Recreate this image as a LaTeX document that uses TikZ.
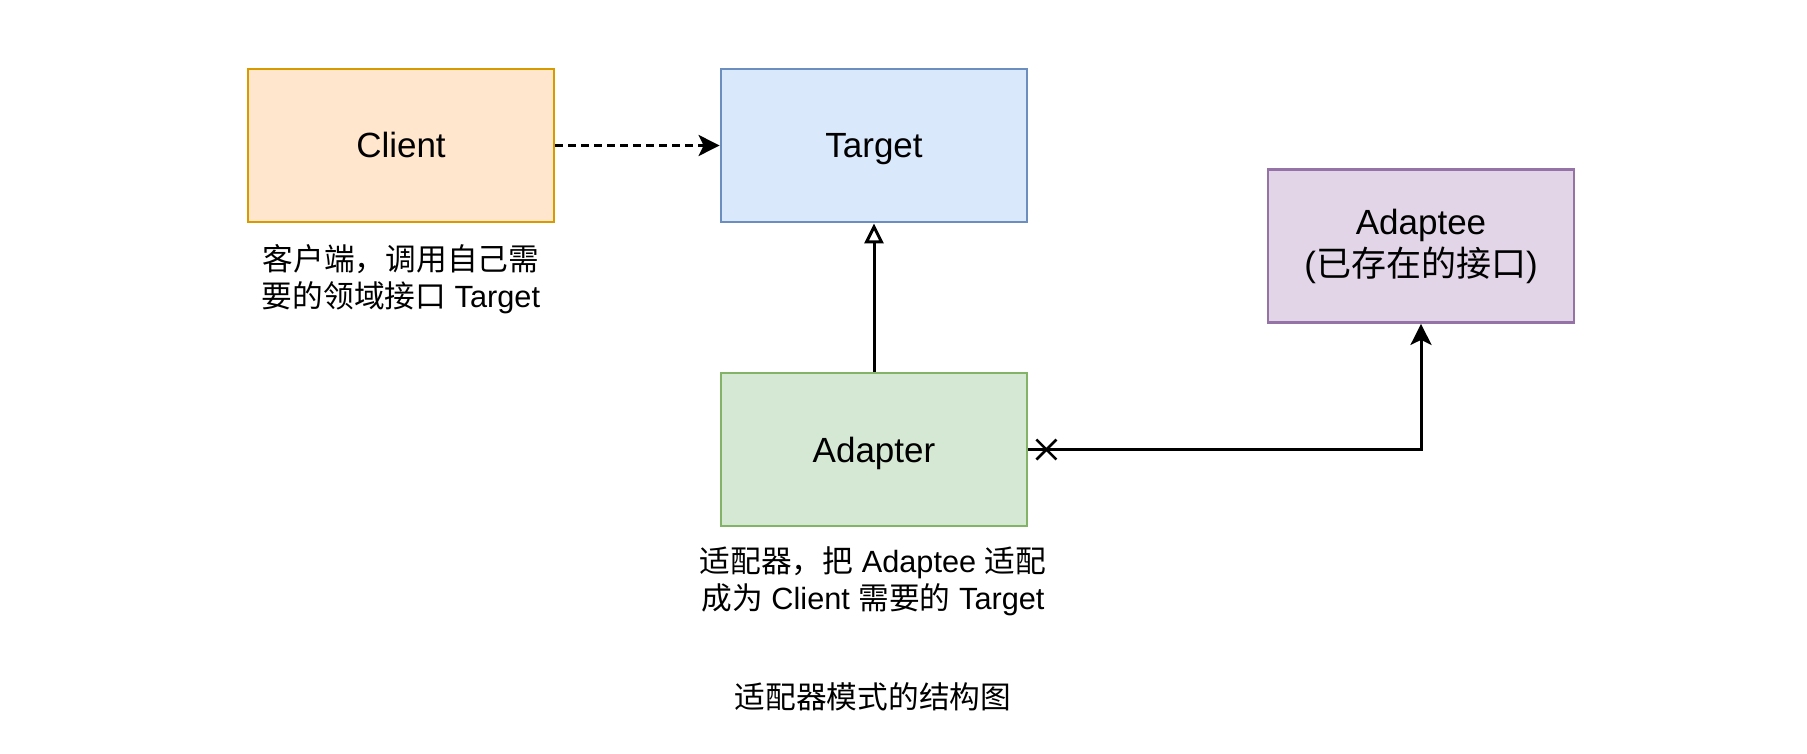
\documentclass[tikz,border=0pt]{standalone}
\usepackage{fontspec}
\setmainfont{Liberation Sans}
\newfontfamily\cjk{Noto Sans CJK SC}
\usetikzlibrary{arrows.meta}
\definecolor{clientfill}{HTML}{FFE6CC}
\definecolor{clientline}{HTML}{D79B00}
\definecolor{targetfill}{HTML}{DAE8FC}
\definecolor{targetline}{HTML}{6C8EBF}
\definecolor{adapterfill}{HTML}{D5E8D4}
\definecolor{adapterline}{HTML}{82B366}
\definecolor{adapteefill}{HTML}{E1D5E7}
\definecolor{adapteeline}{HTML}{9673A6}
\begin{document}
\begin{tikzpicture}[x=1pt,y=-1pt,
  box/.style={draw, line width=2.8pt, minimum width=306pt, minimum height=153pt,
    align=center, inner sep=0pt, font=\fontsize{35}{42}\selectfont},
  onebox/.style={box, text height=25pt, text depth=0pt},
  note/.style={align=center, inner sep=0pt, font=\fontsize{30.7}{36.8}\selectfont},
  conn/.style={line width=3pt, black},
  solidtip/.style={-{Stealth[length=21pt,width=21pt,inset=5pt]}},
  opentip/.style={-{Triangle[length=20pt,width=19pt,fill=white]}}]
\useasboundingbox (0,0) rectangle (1807,754);
\fill[white] (0,0) rectangle (1807,754);
\node[onebox, fill=clientfill, draw=clientline] (client) at (401,145.5) {Client};
\node[onebox, fill=targetfill, draw=targetline] (target) at (874,145.5) {Target};
\node[onebox, fill=adapterfill, draw=adapterline] (adapter) at (874,449.5) {Adapter};
\node[box, fill=adapteefill, draw=adapteeline] (adaptee) at (1421,246) {Adaptee\\({\cjk 已存在的接口})};
\node[note] (clientnote) at (401,279) {{\cjk 客户端，调用自己需}\\{\cjk 要的领域接口} Target};
\node[note] (adapternote) at (873,581.5) {{\cjk 适配器，把} Adaptee {\cjk 适配}\\{\cjk 成为} Client {\cjk 需要的} Target};
\node[note] (caption) at (873,697) {\cjk 适配器模式的结构图};
\draw[conn, dash pattern=on 8pt off 5pt, solidtip] (client.east) -- (target.west);
\draw[conn, opentip] (adapter.north) -- (target.south);
\draw[conn, solidtip] (adapter.east) -| (adaptee.south);
\coordinate (crossc) at ([xshift=18pt]adapter.east);
\draw[conn, line width=2.6pt, shift={(crossc)}] (-10,-10) -- (10,10) (-10,10) -- (10,-10);
\end{tikzpicture}
\end{document}
